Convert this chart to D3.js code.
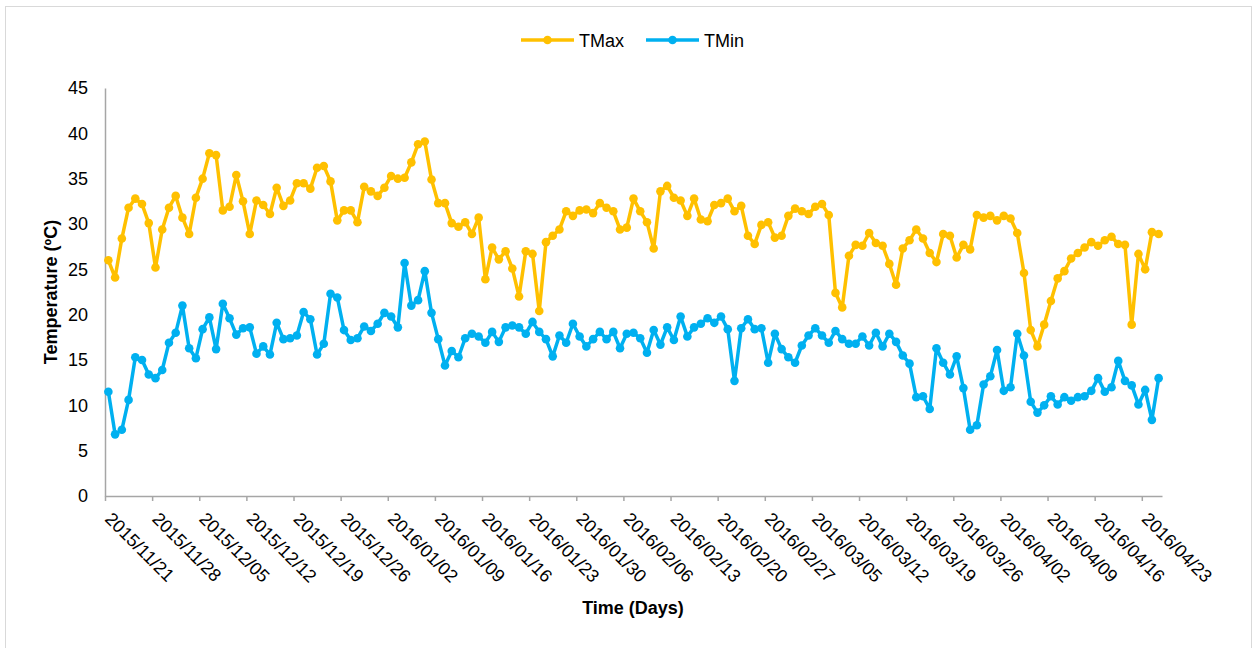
<!DOCTYPE html>
<html>
<head>
<meta charset="utf-8">
<script src="https://cdn.jsdelivr.net/npm/d3@7"></script>
<style>
  body { margin: 0; background: #fff; }
  text { font-family: "Liberation Sans", Arial, sans-serif; }
</style>
</head>
<body>
<svg id="chart" width="1253" height="648"></svg>
<script>
// Daily maximum / minimum temperature, 2015/11/21 – 2016/04/25
const startDay = new Date(2015, 10, 21);

const tickLabels = [
  "2015/11/21", "2015/11/28", "2015/12/05", "2015/12/12", "2015/12/19", "2015/12/26",
  "2016/01/02", "2016/01/09", "2016/01/16", "2016/01/23", "2016/01/30", "2016/02/06",
  "2016/02/13", "2016/02/20", "2016/02/27", "2016/03/05", "2016/03/12", "2016/03/19",
  "2016/03/26", "2016/04/02", "2016/04/09", "2016/04/16", "2016/04/23"
];

const yTicks = [0, 5, 10, 15, 20, 25, 30, 35, 40, 45];

const tMax = [
  26.0, 24.1, 28.4, 31.8, 32.8, 32.2, 30.1, 25.2, 29.4, 31.8,
  33.1, 30.7, 28.9, 32.9, 35.0, 37.8, 37.6, 31.5, 31.9, 35.4,
  32.5, 28.9, 32.6, 32.1, 31.1, 34.0, 32.0, 32.6, 34.5, 34.5,
  33.9, 36.2, 36.4, 34.7, 30.4, 31.5, 31.5, 30.2, 34.1, 33.6,
  33.1, 34.0, 35.3, 35.0, 35.1, 36.8, 38.8, 39.1, 34.9, 32.3,
  32.3, 30.1, 29.7, 30.2, 28.9, 30.7, 23.9, 27.4, 26.1, 27.0,
  25.1, 22.0, 27.0, 26.7, 20.4, 28.0, 28.7, 29.4, 31.4, 30.9,
  31.5, 31.6, 31.2, 32.3, 31.8, 31.4, 29.4, 29.6, 32.8, 31.4,
  30.2, 27.3, 33.6, 34.2, 32.9, 32.6, 30.9, 32.8, 30.5, 30.3,
  32.1, 32.3, 32.8, 31.4, 32.0, 28.7, 27.8, 29.9, 30.2, 28.5,
  28.7, 30.9, 31.7, 31.4, 31.1, 31.9, 32.2, 31.0, 22.4, 20.8,
  26.5, 27.7, 27.6, 29.0, 27.9, 27.6, 25.6, 23.3, 27.3, 28.2,
  29.4, 28.4, 26.8, 25.8, 28.9, 28.7, 26.3, 27.7, 27.2, 31.0,
  30.7, 30.9, 30.4, 30.9, 30.6, 29.0, 24.6, 18.3, 16.5, 18.9,
  21.5, 24.0, 24.8, 26.2, 26.8, 27.4, 28.0, 27.6, 28.2, 28.6,
  27.8, 27.7, 18.9, 26.7, 25.0, 29.1, 28.9
];

const tMin = [
  11.5, 6.8, 7.3, 10.6, 15.3, 15.0, 13.4, 13.0, 13.9, 16.9,
  18.0, 21.0, 16.3, 15.2, 18.4, 19.7, 16.2, 21.2, 19.6, 17.8,
  18.5, 18.6, 15.7, 16.5, 15.6, 19.1, 17.3, 17.4, 17.7, 20.3,
  19.5, 15.6, 16.8, 22.3, 21.9, 18.3, 17.2, 17.4, 18.7, 18.2,
  19.0, 20.2, 19.8, 18.6, 25.7, 21.0, 21.6, 24.8, 20.2, 17.3,
  14.4, 16.0, 15.3, 17.4, 17.9, 17.6, 16.9, 18.1, 17.0, 18.6,
  18.8, 18.6, 17.9, 19.2, 18.1, 17.3, 15.4, 17.7, 16.9, 19.0,
  17.6, 16.5, 17.3, 18.1, 17.3, 18.1, 16.3, 17.9, 18.0, 17.4,
  15.8, 18.3, 16.7, 18.6, 17.2, 19.8, 17.6, 18.6, 19.0, 19.6,
  19.1, 19.8, 18.4, 12.7, 18.5, 19.5, 18.4, 18.5, 14.7, 17.9,
  16.2, 15.3, 14.7, 16.6, 17.7, 18.5, 17.7, 16.9, 18.2, 17.3,
  16.8, 16.8, 17.6, 16.6, 18.0, 16.5, 17.9, 17.0, 15.5, 14.6,
  10.9, 11.0, 9.6, 16.3, 14.7, 13.4, 15.4, 11.9, 7.3, 7.8,
  12.3, 13.2, 16.1, 11.6, 12.0, 17.9, 15.5, 10.4, 9.2, 10.0,
  11.0, 10.1, 10.9, 10.5, 10.9, 11.0, 11.6, 13.0, 11.5, 12.0,
  14.9, 12.7, 12.2, 10.1, 11.7, 8.4, 13.0
];

const seriesNames = ["TMax", "TMin"];
const seriesColors = ["#FFC000", "#00B0F0"];
const seriesValues = [tMax, tMin];

const days = d3.timeDay.range(startDay, d3.timeDay.offset(startDay, tMax.length));

const svg = d3.select("#chart");
const W = 1253, H = 648;

// outer chart frame
svg.append("rect")
  .attr("x", 5.5).attr("y", 6.5)
  .attr("width", 1246).attr("height", 650)
  .attr("fill", "#fff")
  .attr("stroke", "#d9d9d9").attr("stroke-width", 1);

const plot = { left: 105, right: 1162, top: 88, bottom: 496 };

// each day occupies one slot; points sit in the middle of their slot
const x = d3.scaleLinear().domain([0, days.length]).range([plot.left, plot.right]);
const y = d3.scaleLinear().domain([0, 45]).range([plot.bottom, plot.top]);
const px = i => x(i + 0.5);

// y axis
const yAxis = svg.append("g")
  .attr("transform", `translate(${plot.left},0)`)
  .call(d3.axisLeft(y).tickValues(yTicks).tickSize(0).tickPadding(17).tickFormat(d3.format("d")));
yAxis.select(".domain").attr("stroke", "#a6a6a6").attr("stroke-width", 1.5);
yAxis.selectAll("text").attr("font-size", 18).attr("fill", "#000");

// x axis: weekly ticks on slot boundaries
const weekStarts = d3.range(0, days.length, 7).slice(0, tickLabels.length);
const xAxis = svg.append("g")
  .attr("transform", `translate(0,${plot.bottom})`)
  .call(d3.axisBottom(x).tickValues(weekStarts).tickSize(5).tickSizeOuter(0)
    .tickFormat((d, i) => tickLabels[i]));
xAxis.select(".domain").attr("stroke", "#a6a6a6").attr("stroke-width", 1.5);
xAxis.selectAll(".tick line").attr("stroke", "#a6a6a6").attr("stroke-width", 1.5);
xAxis.selectAll("text")
  .attr("font-size", 18).attr("fill", "#000")
  .attr("text-anchor", "start")
  .attr("dy", null)
  .attr("y", null)
  .attr("transform", "translate(-1.5,24) rotate(45)");

// axis titles
svg.append("text")
  .attr("transform", `translate(57,${(plot.top + plot.bottom) / 2}) rotate(-90)`)
  .attr("text-anchor", "middle")
  .attr("font-size", 18).attr("font-weight", "bold").attr("fill", "#000")
  .text("Temperature (ºC)");

svg.append("text")
  .attr("x", 633).attr("y", 614)
  .attr("text-anchor", "middle")
  .attr("font-size", 18).attr("font-weight", "bold").attr("fill", "#000")
  .text("Time (Days)");

// series lines and markers
const line = d3.line().x((d, i) => px(i)).y(d => y(d));

seriesValues.forEach((vals, s) => {
  const g = svg.append("g");
  g.append("path")
    .datum(vals)
    .attr("d", line)
    .attr("fill", "none")
    .attr("stroke", seriesColors[s])
    .attr("stroke-width", 3.5)
    .attr("stroke-linejoin", "round");
  g.selectAll("circle")
    .data(vals)
    .join("circle")
    .attr("cx", (d, i) => px(i))
    .attr("cy", d => y(d))
    .attr("r", 4.3)
    .attr("fill", seriesColors[s]);
});

// legend
const legendX = [521, 646];
const legend = svg.append("g");
seriesNames.forEach((name, s) => {
  const lg = legend.append("g").attr("transform", `translate(${legendX[s]},40)`);
  lg.append("line").attr("x1", 0).attr("x2", 53).attr("y1", 0).attr("y2", 0)
    .attr("stroke", seriesColors[s]).attr("stroke-width", 3.5);
  lg.append("circle").attr("cx", 26.5).attr("cy", 0).attr("r", 4.3).attr("fill", seriesColors[s]);
  lg.append("text").attr("x", 58).attr("y", 6.5)
    .attr("font-size", 18).attr("fill", "#000").text(name);
});
</script>
</body>
</html>
